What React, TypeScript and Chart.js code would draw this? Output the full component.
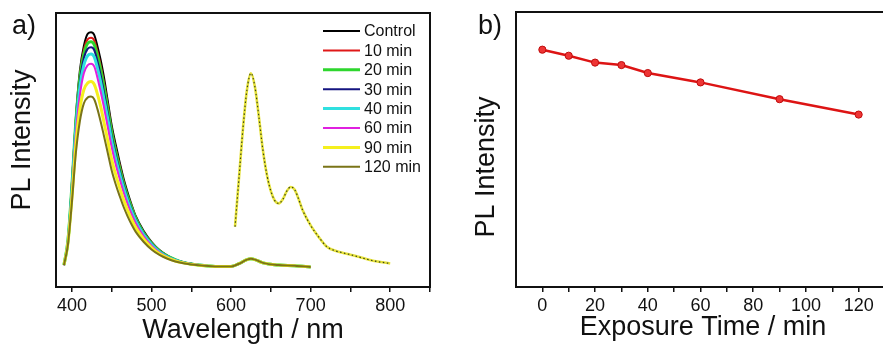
import React, { useEffect, useRef } from "react";
import { Chart, registerables } from "chart.js";

Chart.register(...registerables);

const FONT = '"Liberation Sans", Arial, Helvetica, sans-serif';
const INK = "#111111";

// ---------- Panel a: PL spectra ----------
const wavelengths = [390, 395, 400, 405, 410, 415, 420, 424, 428, 432, 436, 440, 445, 450, 455, 460, 465, 470, 475, 480, 490, 500, 510, 520, 530, 540, 560, 580, 600, 610, 620, 625, 630, 640, 660, 680, 700];

const control = [8, 17, 38, 62, 79, 88, 92.5, 93, 92, 88, 83, 77, 68, 59, 52, 45.5, 39.5, 34.5, 30, 26, 20.5, 16.5, 13.5, 11.5, 10, 9, 8, 7.5, 7.5, 8.5, 10, 10.3, 10, 8.8, 8, 7.8, 7.3];
const min10 = [8, 17, 37.5, 61, 77.5, 86.5, 90.5, 91, 90, 86, 81, 75, 66.5, 57.5, 50.5, 44.5, 38.5, 33.5, 29.5, 25.5, 20, 16.2, 13.3, 11.4, 10, 9, 8, 7.5, 7.5, 8.5, 10, 10.3, 10, 8.8, 8, 7.8, 7.3];
const min20 = [8, 17, 37, 60.5, 76.5, 85, 89, 89.5, 88.5, 84.5, 79.5, 73.5, 65, 56.5, 49.5, 43.5, 37.8, 33, 29, 25.2, 19.8, 16, 13.2, 11.3, 10, 9, 8, 7.5, 7.5, 8.5, 10, 10.3, 10, 8.8, 8, 7.8, 7.3];
const min30 = [8, 17, 36.5, 59.5, 75, 83.5, 87, 87.5, 86.5, 82.5, 77.5, 71.5, 63.5, 55, 48.3, 42.5, 37, 32.3, 28.4, 24.8, 19.5, 15.8, 13, 11.2, 9.9, 9, 8, 7.5, 7.5, 8.5, 10, 10.3, 10, 8.8, 8, 7.8, 7.3];
const min40 = [8, 16.5, 35.5, 58, 73, 81, 84.5, 85, 84, 80, 75, 69, 61.5, 53.3, 46.8, 41.2, 36, 31.5, 27.6, 24.2, 19.1, 15.5, 12.8, 11, 9.8, 8.9, 8, 7.5, 7.5, 8.5, 10, 10.3, 10, 8.8, 8, 7.8, 7.3];
const min60 = [8, 16.5, 34.5, 56, 70, 78, 81, 81.5, 80.5, 76.5, 71.5, 66, 58.5, 51, 44.8, 39.5, 34.5, 30.3, 26.6, 23.4, 18.6, 15.1, 12.6, 10.9, 9.7, 8.9, 8, 7.5, 7.5, 8.5, 10, 10.3, 10, 8.8, 8, 7.8, 7.3];
const min90 = [8, 16, 32.5, 52, 65, 72, 74.5, 75, 74, 70.5, 66, 60.5, 53.5, 46.5, 41, 36.2, 31.8, 28, 24.7, 21.8, 17.5, 14.4, 12.1, 10.6, 9.5, 8.8, 7.9, 7.5, 7.5, 8.5, 10, 10.3, 10, 8.8, 8, 7.8, 7.3];
const min120 = [8, 15.5, 31, 49, 60.5, 67, 69.2, 69.5, 68.5, 65, 60.5, 55.5, 49, 42.5, 37.5, 33.2, 29.2, 25.8, 22.8, 20.2, 16.5, 13.7, 11.7, 10.3, 9.3, 8.7, 7.9, 7.5, 7.5, 8.5, 10, 10.3, 10, 8.8, 8, 7.8, 7.3];

const seriesLabels = ["Control", "10 min", "20 min", "30 min", "40 min", "60 min", "90 min", "120 min"];
const seriesValues = [control, min10, min20, min30, min40, min60, min90, min120];
const seriesColors = ["#000000", "#e01818", "#2ed62e", "#141480", "#30e0e0", "#e020e0", "#f5f01e", "#7a7418"];
const seriesWidths = [2, 2, 3, 2, 3, 2, 3, 2];

// red emission band (overlapping spectra)
const wavelengthsRed = [605, 610, 615, 620, 625, 630, 635, 640, 645, 650, 655, 660, 665, 670, 675, 680, 685, 690, 700, 710, 720, 730, 740, 750, 760, 770, 780, 790, 800];
const redBand = [22, 40, 58, 72, 78, 73, 62, 50, 41, 35, 31.5, 30.5, 32, 35, 36.5, 35.5, 32, 28, 22.5, 18.3, 14.8, 13.3, 12.5, 11.8, 11, 10.2, 9.5, 9, 8.6];

const xTicksA = [400, 450, 500, 550, 600, 650, 700, 750, 800, 850];

// ---------- Panel b: intensity vs exposure time ----------
const exposureTimes = [0, 10, 20, 30, 40, 60, 90, 120];
const intensity = [86.3, 84.1, 81.6, 80.7, 77.8, 74.4, 68.3, 62.7];
const xTicksB = [0, 10, 20, 30, 40, 50, 60, 70, 80, 90, 100, 110, 120, 130];

const pts = (xs: number[], ys: number[]) => xs.map((x, i) => ({ x, y: ys[i] }));

type TextItem = { text: string; x: number; y: number; size: number; rotate?: boolean; align?: CanvasTextAlign; base?: CanvasTextBaseline };

function overlayPlugin(texts: TextItem[], legend?: boolean) {
  return {
    id: "overlay",
    afterDraw(chart: any) {
      const ctx = chart.ctx as CanvasRenderingContext2D;
      const { left, top, right, bottom } = chart.chartArea;
      ctx.save();
      ctx.strokeStyle = INK;
      ctx.lineWidth = 2;
      ctx.strokeRect(left, top, right - left, bottom - top);
      ctx.fillStyle = INK;
      for (const t of texts) {
        ctx.save();
        ctx.font = `${t.size}px ${FONT}`;
        ctx.textAlign = t.align || "center";
        ctx.textBaseline = t.base || "alphabetic";
        ctx.translate(t.x, t.y);
        if (t.rotate) ctx.rotate(-Math.PI / 2);
        ctx.fillText(t.text, 0, 0);
        ctx.restore();
      }
      if (legend) {
        ctx.font = `16px ${FONT}`;
        ctx.textAlign = "left";
        ctx.textBaseline = "middle";
        seriesLabels.forEach((lab, i) => {
          const y = 31 + i * 19.4;
          ctx.strokeStyle = seriesColors[i];
          ctx.lineWidth = seriesWidths[i];
          ctx.beginPath();
          ctx.moveTo(323, y);
          ctx.lineTo(360, y);
          ctx.stroke();
          ctx.fillStyle = INK;
          ctx.fillText(lab, 364, y + 1);
        });
      }
      ctx.restore();
    },
  };
}

function ChartCanvas({ width, height, makeConfig }: { width: number; height: number; makeConfig: () => any }) {
  const ref = useRef<HTMLCanvasElement | null>(null);
  useEffect(() => {
    if (!ref.current) return;
    const chart = new Chart(ref.current, makeConfig());
    return () => chart.destroy();
  }, []);
  return <canvas ref={ref} width={width} height={height} style={{ width, height, display: "block" }} />;
}

const tickGrid = { drawOnChartArea: false, drawTicks: true, tickLength: 5, tickColor: INK, tickWidth: 1.5, lineWidth: 1.5, color: INK };

function configA() {
  const mainSets = seriesValues.map((vals, i) => ({
    label: seriesLabels[i],
    data: pts(wavelengths, vals),
    borderColor: seriesColors[i],
    borderWidth: seriesWidths[i],
    pointRadius: 0,
    cubicInterpolationMode: "monotone",
    fill: false,
    order: 10 - i,
  }));
  return {
    type: "line",
    data: {
      datasets: [
        ...mainSets,
        {
          label: "band",
          data: pts(wavelengthsRed, redBand),
          borderColor: "#e6e23a",
          borderWidth: 2.6,
          pointRadius: 0,
          cubicInterpolationMode: "monotone",
          order: 1,
        },
        {
          label: "band-dots",
          data: pts(wavelengthsRed, redBand),
          borderColor: "#3a4418",
          borderWidth: 1.2,
          borderDash: [1.5, 2.5],
          pointRadius: 0,
          cubicInterpolationMode: "monotone",
          order: 0,
        },
      ],
    },
    options: {
      animation: false,
      responsive: false,
      devicePixelRatio: 1,
      layout: { padding: { left: 56, top: 13, right: 10, bottom: 0 } },
      plugins: { legend: { display: false }, tooltip: { enabled: false } },
      scales: {
        x: {
          type: "linear",
          min: 380,
          max: 850,
          afterBuildTicks: (s: any) => {
            s.ticks = xTicksA.map((v) => ({ value: v }));
          },
          afterFit: (s: any) => {
            s.height = 58;
          },
          grid: tickGrid,
          border: { display: false },
          ticks: {
            font: { family: FONT, size: 18 },
            color: INK,
            padding: 3,
            maxRotation: 0,
            autoSkip: false,
            callback: (v: number) => (v % 100 === 0 ? String(v) : ""),
          },
        },
        y: { display: false, min: 0, max: 100 },
      },
    },
    plugins: [
      overlayPlugin(
        [
          { text: "a)", x: 12, y: 34, size: 27, align: "left" },
          { text: "PL Intensity", x: 23, y: 140, size: 27, rotate: true, base: "middle" },
          { text: "Wavelength / nm", x: 243, y: 338, size: 27 },
        ],
        true
      ),
    ],
  };
}

function configB() {
  return {
    type: "line",
    data: {
      datasets: [
        {
          label: "PL Intensity",
          data: pts(exposureTimes, intensity),
          borderColor: "#dd1414",
          borderWidth: 2.5,
          pointRadius: 3.6,
          pointBackgroundColor: "#ee3535",
          pointBorderColor: "#c00c0c",
          pointBorderWidth: 1,
          tension: 0,
        },
      ],
    },
    options: {
      animation: false,
      responsive: false,
      devicePixelRatio: 1,
      layout: { padding: { left: 76, top: 12, right: 1, bottom: 0 } },
      plugins: { legend: { display: false }, tooltip: { enabled: false } },
      scales: {
        x: {
          type: "linear",
          min: -10,
          max: 130,
          afterBuildTicks: (s: any) => {
            s.ticks = xTicksB.map((v) => ({ value: v }));
          },
          afterFit: (s: any) => {
            s.height = 58;
          },
          grid: tickGrid,
          border: { display: false },
          ticks: {
            font: { family: FONT, size: 18 },
            color: INK,
            padding: 3,
            maxRotation: 0,
            autoSkip: false,
            callback: (v: number) => (v % 20 === 0 && v <= 120 ? String(v) : ""),
          },
        },
        y: { display: false, min: 0, max: 100 },
      },
    },
    plugins: [
      overlayPlugin([
        { text: "b)", x: 38, y: 34, size: 27, align: "left" },
        { text: "PL Intensity", x: 47, y: 167, size: 27, rotate: true, base: "middle" },
        { text: "Exposure Time / min", x: 263, y: 335, size: 27 },
      ]),
    ],
  };
}

export default function App() {
  return (
    <div style={{ position: "fixed", left: 0, top: 0, width: 883, height: 345, overflow: "hidden", background: "#ffffff" }}>
      <div style={{ position: "absolute", left: 0, top: 0, width: 440, height: 345 }}>
        <ChartCanvas width={440} height={345} makeConfig={configA} />
      </div>
      <div style={{ position: "absolute", left: 440, top: 0, width: 450, height: 345 }}>
        <ChartCanvas width={450} height={345} makeConfig={configB} />
      </div>
    </div>
  );
}
